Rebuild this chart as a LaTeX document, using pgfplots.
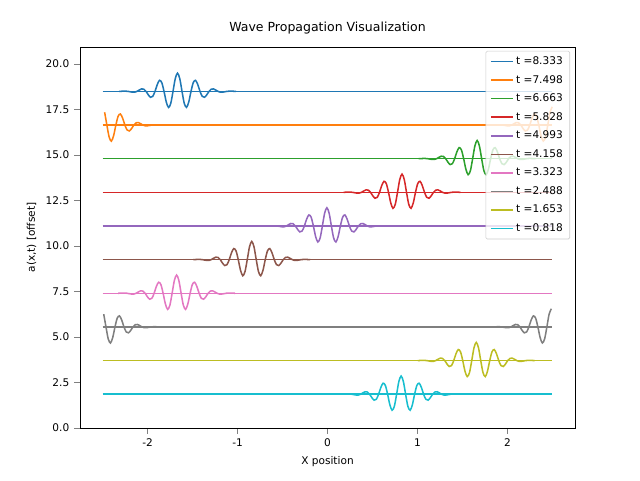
\documentclass[border=0pt]{standalone}
\usepackage{pgfplots}
\pgfplotsset{compat=1.18}
\usepackage{pgfplotstable}
\usepackage{fontspec}
\setmainfont{DejaVu Sans}
\definecolor{c0}{HTML}{1F77B4}\definecolor{c1}{HTML}{FF7F0E}\definecolor{c2}{HTML}{2CA02C}
\definecolor{c3}{HTML}{D62728}\definecolor{c4}{HTML}{9467BD}\definecolor{c5}{HTML}{8C564B}
\definecolor{c6}{HTML}{E377C2}\definecolor{c7}{HTML}{7F7F7F}\definecolor{c8}{HTML}{BCBD22}
\definecolor{c9}{HTML}{17BECF}
\pgfplotstableread{
dx a
-0.65 0
-0.6 0.011
-0.575 0.011
-0.55 0
-0.525 -0.023
-0.5 -0.044
-0.475 -0.042
-0.45 0
-0.425 0.074
-0.4 0.135
-0.375 0.122
-0.35 0
-0.325 -0.189
-0.3 -0.325
-0.275 -0.275
-0.25 0
-0.225 0.375
-0.2 0.607
-0.175 0.482
-0.15 0
-0.125 -0.582
-0.1 -0.882
-0.075 -0.659
-0.05 0
-0.025 0.702
0 1
0.025 0.702
0.05 0
0.075 -0.659
0.1 -0.882
0.125 -0.582
0.15 0
0.175 0.482
0.2 0.607
0.225 0.375
0.25 0
0.275 -0.275
0.3 -0.325
0.325 -0.189
0.35 0
0.375 0.122
0.4 0.135
0.425 0.074
0.45 0
0.475 -0.042
0.5 -0.044
0.525 -0.023
0.55 0
0.575 0.011
0.6 0.011
0.65 0
}\packet
\newcommand\wave[4]{% color, center, offset, label
  \addplot[#1, line width=1.1pt, forget plot] coordinates {(-2.5,#3) (2.5,#3)};
  \addplot[#1, line width=1.1pt, smooth, restrict x to domain=-2.5:2.5] table[x expr=\thisrow{dx}+#2, y expr=\thisrow{a}+#3]{\packet};
  \addlegendentry{t =#4}
}
\newcommand\wavewrap[3]{%
  \addplot[#1, line width=1.1pt, smooth, forget plot, restrict x to domain=-2.5:2.5] table[x expr=\thisrow{dx}+#2-5, y expr=\thisrow{a}+#3]{\packet};
}
\begin{document}
\begin{tikzpicture}
\begin{axis}[name=ax, scale only axis, width=356pt, height=274pt,
  xmin=-2.75, xmax=2.75, ymin=0, ymax=20.94,
  xtick={-2,-1,0,1,2}, ytick={0,2.5,...,20},
  yticklabel style={/pgf/number format/.cd, fixed, fixed zerofill, precision=1},
  /pgf/number format/assume math mode=true,
  tick align=outside, tick pos=left,
  font=\fontsize{7.6pt}{9pt}\selectfont,
  title={\fontsize{9pt}{10pt}\selectfont Wave Propagation Visualization},
  xlabel={X position}, ylabel={a(x,t) [offset]},
  legend style={at={(0.99,0.99)}, anchor=north east, fill=white, fill opacity=0.8, text opacity=1, draw=gray!40, rounded corners=1pt, font=\fontsize{7.6pt}{9pt}\selectfont, row sep=2.2pt},
  legend cell align=left,
  legend image code/.code={\draw[#1] (0cm,0cm) -- (0.55cm,0cm);},
]
\wave{c0}{-1.667}{18.5}{8.333}
\wave{c1}{2.498}{16.65}{7.498}
\wavewrap{c1}{2.498}{16.65}
\wave{c2}{1.663}{14.8}{6.663}
\wave{c3}{0.828}{12.95}{5.828}
\wave{c4}{-0.007}{11.1}{4.993}
\wave{c5}{-0.842}{9.25}{4.158}
\wave{c6}{-1.677}{7.4}{3.323}
\wave{c7}{2.488}{5.55}{2.488}
\wavewrap{c7}{2.488}{5.55}
\wave{c8}{1.653}{3.7}{1.653}
\wave{c9}{0.818}{1.85}{0.818}
\end{axis}
\path (ax.south west)++(-57.6pt,-38.2pt) coordinate (a);
\path (ax.north east)++(46.8pt,33.8pt) coordinate (b);
\path (a) rectangle (b);
\end{tikzpicture}
\end{document}
